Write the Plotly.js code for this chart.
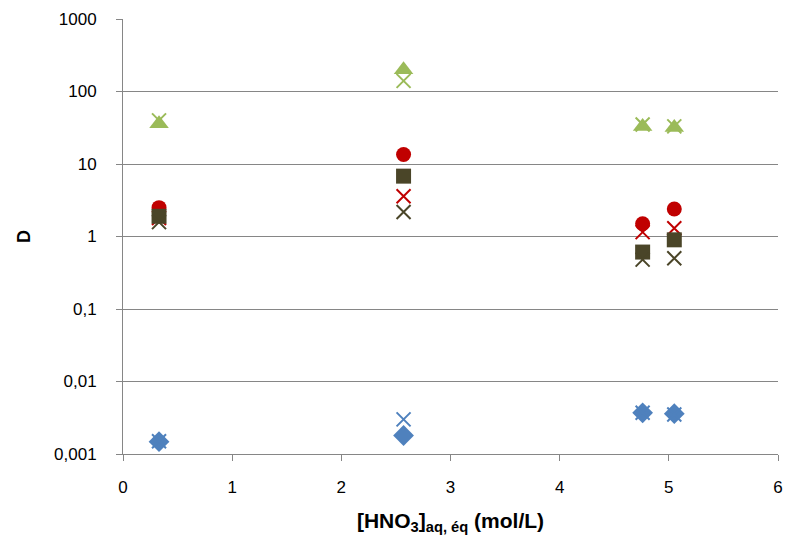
<!DOCTYPE html>
<html>
<head>
<meta charset="utf-8">
<script src="https://cdn.plot.ly/plotly-3.0.1.min.js"></script>
<style>html,body{margin:0;padding:0;background:#fff;}#chart{width:788px;height:540px;}</style>
</head>
<body>
<div id="chart"></div>
<script>
// x: [HNO3] aq, éq (mol/L)
var hno3 = [0.33, 2.57, 4.76, 5.05];

// Blue series
var blueExp  = [0.00148, 0.00180, 0.0037, 0.0036];
var blueCalc = [0.00150, 0.0030, 0.0037, 0.0035];
// Red series
var redExp   = [2.5, 13.5, 1.5, 2.4];
var redCalc  = [1.8, 3.6, 1.15, 1.3];
// Dark olive series
var darkExp  = [1.9, 6.8, 0.61, 0.9];
var darkCalc = [1.58, 2.18, 0.48, 0.5];
// Green series
var greenExp  = [36, 200, 33, 32];
var greenCalc = [40, 140, 35, 33];

var yTickVals = [0.001, 0.01, 0.1, 1, 10, 100, 1000];
var yTickText = ['0,001', '0,01', '0,1', '1', '10', '100', '1000'];
var xTickVals = [0, 1, 2, 3, 4, 5, 6];

var cBlue = '#4F81BD', cRed = '#C00000', cDark = '#4A4528', cGreen = '#9BBB59';

function filled(y, sym, color, size) {
  return {x: hno3, y: y, type: 'scatter', mode: 'markers', showlegend: false,
    marker: {symbol: sym, color: color, size: size, line: {width: 0}}};
}
function cross(y, color) {
  return {x: hno3, y: y, type: 'scatter', mode: 'markers', showlegend: false,
    marker: {symbol: 'x-thin', size: 14, color: color, line: {color: color, width: 2}}};
}

var data = [
  filled(blueExp, 'diamond', cBlue, 16),
  cross(blueCalc, cBlue),
  filled(redExp, 'circle', cRed, 15),
  cross(redCalc, cRed),
  filled(darkExp, 'square', cDark, 15),
  cross(darkCalc, cDark),
  filled(greenExp, 'triangle-up', cGreen, 17),
  cross(greenCalc, cGreen)
];

var fontFam = 'Liberation Sans, Arial, sans-serif';
var layout = {
  width: 788, height: 540,
  margin: {l: 123, r: 10, t: 19, b: 86},
  paper_bgcolor: '#fff', plot_bgcolor: '#fff',
  font: {family: fontFam, size: 16, color: '#000'},
  showlegend: false,
  xaxis: {
    range: [0, 6], tickvals: xTickVals, ticktext: xTickVals.map(String),
    showgrid: false, zeroline: false,
    showline: true, linecolor: '#868686', linewidth: 1,
    ticks: 'outside', ticklen: 6, tickcolor: '#868686',
    ticklabelstandoff: 12,
    tickfont: {family: fontFam, size: 17, color: '#000'},
    title: {text: '<b>[HNO<sub>3</sub>]<sub>aq, éq</sub> (mol/L)</b>',
      font: {family: fontFam, size: 21, color: '#000'}, standoff: 16}
  },
  yaxis: {
    type: 'log', range: [-3, 3], tickvals: yTickVals, ticktext: yTickText,
    showgrid: true, gridcolor: '#868686', gridwidth: 1, zeroline: false,
    showline: true, linecolor: '#868686', linewidth: 1,
    ticks: 'outside', ticklen: 6, tickcolor: '#868686',
    ticklabelstandoff: 16,
    tickfont: {family: fontFam, size: 17, color: '#000'},
    title: {text: '<b>D</b>', font: {family: fontFam, size: 18, color: '#000'}, standoff: 18}
  }
};

Plotly.newPlot('chart', data, layout, {displayModeBar: false, staticPlot: true});
</script>
</body>
</html>
